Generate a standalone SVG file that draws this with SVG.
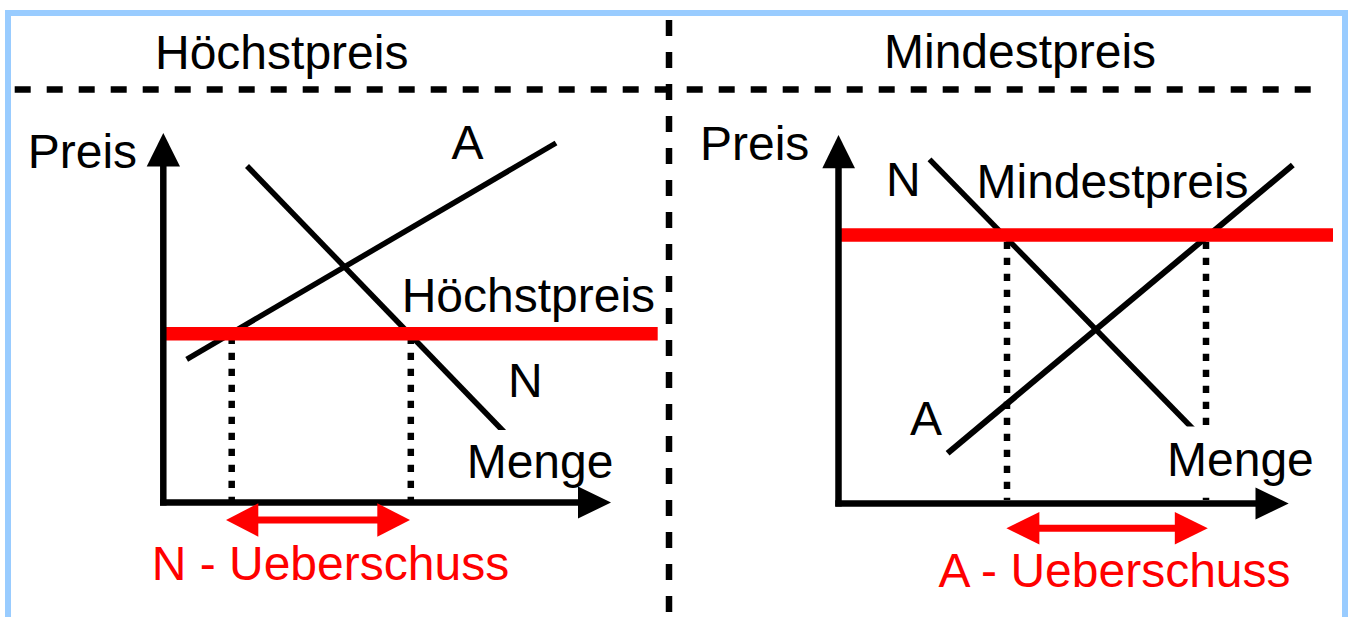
<svg xmlns="http://www.w3.org/2000/svg" width="1351" height="617" viewBox="0 0 1351 617">
<style>
text{font-family:"Liberation Sans",Arial,sans-serif;font-size:48px;fill:#000}
.red{fill:#ff0000}
.ax{stroke:#000;stroke-width:6.5;fill:none}
.curve{stroke:#000;stroke-width:5.5;fill:none}
.dot{stroke:#000;stroke-width:6.5;stroke-dasharray:7.3 8.7;fill:none}
.dash{stroke:#000;stroke-width:6.5;stroke-dasharray:16 16;fill:none}
.price{stroke:#ff0000;stroke-width:13.5;fill:none}
.gap{stroke:#ff0000;stroke-width:7;fill:none}
</style>
<rect x="0" y="0" width="1351" height="617" fill="#fff"/>
<rect x="8" y="13" width="1337" height="640" fill="#fff" stroke="#99ccff" stroke-width="6"/>
<g id="dividers">
<line class="dash" x1="14.7" y1="89.5" x2="1311" y2="89.5"/>
<line class="dash" x1="669" y1="20" x2="669" y2="617"/>
</g>
<g id="titles">
<text x="155" y="69">Höchstpreis</text>
<text x="884" y="68">Mindestpreis</text>
</g>
<g id="hoechstpreis-chart">
<line class="curve" x1="186.7" y1="359.3" x2="556" y2="143"/>
<line class="curve" x1="247" y1="166" x2="508" y2="436"/>
<line class="dot" x1="231.7" y1="336.7" x2="231.7" y2="500"/>
<line class="dot" x1="410.8" y1="336.7" x2="410.8" y2="500"/>
<line class="price" x1="165" y1="333.7" x2="657.7" y2="333.7"/>
<rect x="460" y="430" width="150" height="52" fill="#fff"/>
<line class="ax" x1="163.3" y1="505.5" x2="163.3" y2="160"/>
<polygon points="163.3,133 146.7,166.5 180,166.5"/>
<line class="ax" x1="160" y1="502.5" x2="580" y2="502.5"/>
<polygon points="611,502.5 578,486.5 578,518.5"/>
<line class="gap" x1="255" y1="520" x2="380" y2="520"/>
<polygon class="red" points="226,520 258.3,503.3 258.3,536.7"/>
<polygon class="red" points="410,520 377.3,503.3 377.3,536.7"/>
<text x="27.7" y="168">Preis</text>
<text x="451.5" y="159">A</text>
<text x="401.7" y="312">Höchstpreis</text>
<text x="508" y="397">N</text>
<text x="466.7" y="478">Menge</text>
<text class="red" x="151.7" y="580">N - Ueberschuss</text>
</g>
<g id="mindestpreis-chart">
<line class="curve" x1="929.5" y1="159.3" x2="1196" y2="432"/>
<line class="curve" x1="947.6" y1="453.3" x2="1292.8" y2="165" style="stroke-width:6"/>
<line class="dot" x1="1007" y1="241.7" x2="1007" y2="500"/>
<line class="dot" x1="1206" y1="241.7" x2="1206" y2="500"/>
<line class="price" x1="837.7" y1="235" x2="1333" y2="235"/>
<rect x="1160" y="426.5" width="155" height="68.5" fill="#fff"/>
<line class="ax" x1="838.5" y1="506.5" x2="838.5" y2="165"/>
<polygon points="838.5,135 822.3,168.3 855,168.3"/>
<line class="ax" x1="835.3" y1="503.5" x2="1258" y2="503.5"/>
<polygon points="1288.7,503.5 1255.5,487.5 1255.5,519.5"/>
<line class="gap" x1="1036" y1="528.3" x2="1178" y2="528.3"/>
<polygon class="red" points="1006.4,528.3 1039.4,512 1039.4,544.6"/>
<polygon class="red" points="1207.8,528.3 1174.8,512 1174.8,544.6"/>
<text x="700" y="160">Preis</text>
<text x="886" y="196">N</text>
<text x="976.5" y="198">Mindestpreis</text>
<text x="910" y="435">A</text>
<text x="1167" y="476">Menge</text>
<text class="red" x="938.4" y="587">A - Ueberschuss</text>
</g>
</svg>
